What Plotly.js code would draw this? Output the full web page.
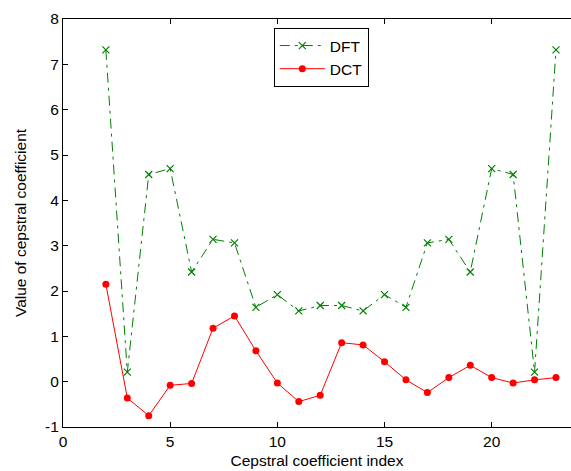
<!DOCTYPE html>
<html>
<head>
<meta charset="utf-8">
<script src="https://cdn.plot.ly/plotly-3.0.1.min.js"></script>
<style>html,body{margin:0;padding:0;overflow:hidden;background:#fff;}</style>
</head>
<body>
<div id="chart" style="width:571px;height:471px;"></div>
<script>
var idx = [2,3,4,5,6,7,8,9,10,11,12,13,14,15,16,17,18,19,20,21,22,23];
var dft = [7.32,0.21,4.57,4.70,2.42,3.14,3.06,1.64,1.92,1.56,1.68,1.68,1.56,1.92,1.64,3.06,3.14,2.42,4.70,4.57,0.21,7.32];
var dct = [2.15,-0.36,-0.75,-0.08,-0.04,1.18,1.45,0.68,-0.03,-0.44,-0.30,0.86,0.81,0.44,0.04,-0.24,0.09,0.36,0.09,-0.03,0.04,0.09];
var xTicks = [0,5,10,15,20];
var yTicks = [-1,0,1,2,3,4,5,6,7,8];

var font = {family: 'Arial, "Liberation Sans", sans-serif', size: 15.5, color: '#000'};

var traces = [
  {x: idx, y: dft, name: 'DFT', type: 'scatter', mode: 'lines+markers',
   line: {color: '#008000', width: 1, dash: '10px,5px,3px,5px'},
   marker: {symbol: 'x-thin-open', size: 7, color: '#008000', line: {color: '#008000', width: 1.2}}},
  {x: idx, y: dct, name: 'DCT', type: 'scatter', mode: 'lines+markers',
   line: {color: '#ff0000', width: 1},
   marker: {symbol: 'circle', size: 7, color: '#ff0000'}}
];

var layout = {
  width: 571, height: 471,
  margin: {l: 63, r: 0, t: 19, b: 44},
  paper_bgcolor: '#fff', plot_bgcolor: '#fff',
  font: font,
  showlegend: true,
  legend: {x: 0.415, y: 0.978, xanchor: 'left', yanchor: 'top',
           bgcolor: '#fff', bordercolor: '#000', borderwidth: 1,
           font: font, tracegroupgap: 0, itemwidth: 45},
  xaxis: {range: [0, 23.7], tickvals: xTicks, ticktext: xTicks.map(String),
          ticks: 'inside', ticklen: 5, tickcolor: '#000', tickwidth: 1,
          showline: true, linecolor: '#000', linewidth: 1, mirror: 'ticks',
          showgrid: false, zeroline: false, tickfont: font,
          title: {text: 'Cepstral coefficient index', font: font, standoff: 6}},
  yaxis: {range: [-1, 8], tickvals: yTicks, ticktext: yTicks.map(String),
          ticks: 'inside', ticklen: 5, tickcolor: '#000', tickwidth: 1,
          showline: true, linecolor: '#000', linewidth: 1, mirror: false,
          showgrid: false, zeroline: false, tickfont: font,
          title: {text: 'Value of cepstral coefficient', font: font, standoff: 14}}
};

Plotly.newPlot('chart', traces, layout, {displayModeBar: false, staticPlot: true});
</script>
</body>
</html>
